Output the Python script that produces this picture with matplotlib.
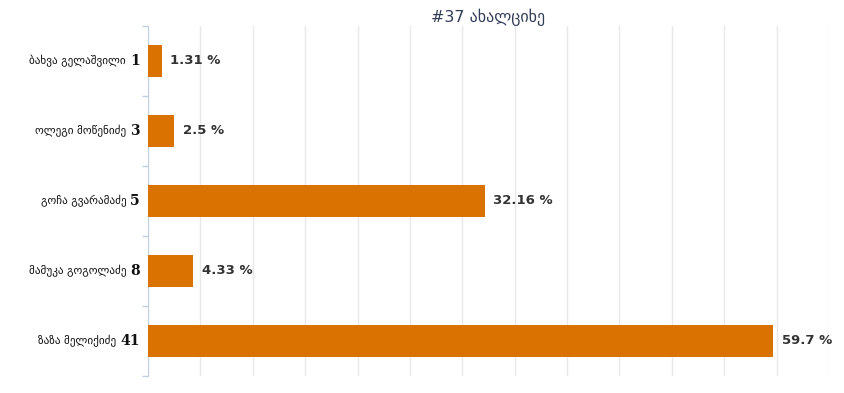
import matplotlib.pyplot as plt
from matplotlib.transforms import offset_copy

plt.rcParams['font.family'] = ['DejaVu Sans']

names = ['ბახვა გელაშვილი', 'ოლეგი მოწენიძე', 'გოჩა გვარამაძე', 'მამუკა გოგოლაძე', 'ზაზა მელიქიძე']
numbers = ['1', '3', '5', '8', '41']
values = [1.31, 2.5, 32.16, 4.33, 59.7]
value_labels = ['1.31 %', '2.5 %', '32.16 %', '4.33 %', '59.7 %']

fig = plt.figure(figsize=(8.44, 3.93), dpi=100)
ax = fig.add_axes([148 / 844, 17 / 393, 681 / 844, 350 / 393])

ypos = list(range(len(values)))
ax.barh(ypos, values, height=0.46, color='#d97200', zorder=3)
ax.set_ylim(len(values) - 0.5, -0.5)
ax.set_xlim(0, 65)
ax.set_xticks(range(0, 66, 5))
ax.set_xticklabels([])
ax.tick_params(axis='x', length=0)
ax.grid(axis='x', color='#e8e8e8', linewidth=1, zorder=0)

ax.set_yticks(ypos)
ax.set_yticklabels([])
ax.tick_params(axis='y', which='major', length=0)
ax.set_yticks([y - 0.5 for y in ypos] + [len(values) - 0.5], minor=True)
ax.tick_params(axis='y', which='minor', length=4, color='#c0d0e0', width=1)

for side in ['top', 'right', 'bottom']:
    ax.spines[side].set_visible(False)
ax.spines['left'].set_color('#c0d0e0')

ax.set_title('#37 ახალციხე', fontsize=11.5, color='#333d58', pad=3)

fig.canvas.draw()
renderer = fig.canvas.get_renderer()
for y, name, num in zip(ypos, names, numbers):
    t = ax.text(-0.012, y, num, transform=ax.get_yaxis_transform(), ha='right', va='center',
                fontsize=10, fontweight='bold', color='#111111', family='DejaVu Serif')
    w = t.get_window_extent(renderer).width
    tr = offset_copy(ax.get_yaxis_transform(), fig=fig, x=-(w + 4), y=0, units='dots')
    ax.text(-0.012, y, name, transform=tr, ha='right', va='center', fontsize=8, color='#111111')

for y, v, lab in zip(ypos, values, value_labels):
    ax.annotate(lab, (v, y), xytext=(6, 0), textcoords='offset points', va='center', ha='left',
                fontsize=9.5, fontweight='bold', color='#333333')

fig.savefig('out.png', dpi=100)
